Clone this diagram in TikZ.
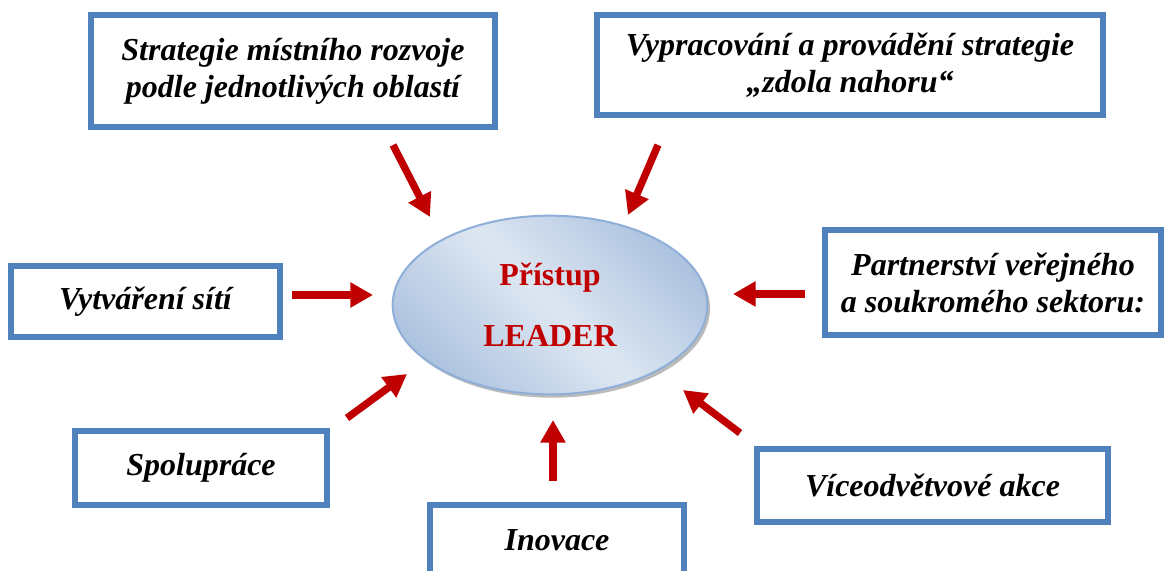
\documentclass[tikz,border=0pt]{standalone}
\usepackage{fontspec}
\setmainfont{Liberation Serif}
\usetikzlibrary{arrows.meta,shadows,shapes.geometric}
\definecolor{boxblue}{HTML}{4F81BD}
\definecolor{arrred}{HTML}{C00000}
\definecolor{ellborder}{HTML}{8FAFD8}
\definecolor{elllight}{HTML}{DDE7F2}
\definecolor{elldark}{HTML}{AEC3E0}
\begin{document}
\begin{tikzpicture}[x=0.75pt,y=-0.75pt,
 box/.style={draw=boxblue, line width=4.5pt, fill=white, inner sep=0pt, align=center,
   font=\fontsize{24}{27.75}\selectfont\bfseries\itshape},
 bigarrow/.style={draw=arrred, line width=5.5pt, -{Triangle[length=17pt,width=18pt]}},
 hub/.style={ellipse, draw=ellborder, line width=1.5pt, top color=elldark, bottom color=elldark,
   middle color=elllight, shading angle=-45, align=center, inner sep=0pt,
   text=arrred, font=\fontsize{24}{46}\selectfont\bfseries,
   drop shadow={shadow xshift=2pt, shadow yshift=-2.5pt, fill=black!45, opacity=.6}},
]
\clip (0,0) rectangle (1168,571);
\fill[white] (0,0) rectangle (1168,571);

\node[hub, minimum width=236pt, minimum height=134pt] (hub) at (550,305) {Přístup\\LEADER};

\node[box, minimum width=303pt, minimum height=84pt] (b1) at (293,71)
  {Strategie místního rozvoje\\podle jednotlivých oblastí};
\node[box, minimum width=379.5pt, minimum height=75pt] (b2) at (850,65)
  {Vypracování a provádění strategie\\„zdola nahoru“};
\node[box, minimum width=201.75pt, minimum height=53.25pt] (b3) at (145.5,301.5)
  {Vytváření sítí};
\node[box, minimum width=252pt, minimum height=78.75pt] (b4) at (993,282.5)
  {Partnerství veřejného\\a soukromého sektoru:};
\node[box, minimum width=189pt, minimum height=55.5pt] (b5) at (201,468)
  {Spolupráce};
\node[box, minimum width=263.25pt, minimum height=54.75pt] (b6) at (932.5,485.5)
  {Víceodvětvové akce};
\node[box, minimum width=190.5pt, minimum height=52.5pt] (b7) at (557,540)
  {Inovace};

\coordinate (t1) at (393,145); \coordinate (h1) at (430,217);
\coordinate (t2) at (658,145); \coordinate (h2) at (628,215);
\coordinate (t3) at (292,295); \coordinate (h3) at (373,295);
\coordinate (t4) at (805,294); \coordinate (h4) at (733,294);
\coordinate (t5) at (347,418); \coordinate (h5) at (407,374);
\coordinate (t6) at (553,481); \coordinate (h6) at (553,420);
\coordinate (t7) at (740,433); \coordinate (h7) at (683,390);

\foreach \i in {1,...,7} \draw[bigarrow] (t\i) -- (h\i);
\end{tikzpicture}
\end{document}
